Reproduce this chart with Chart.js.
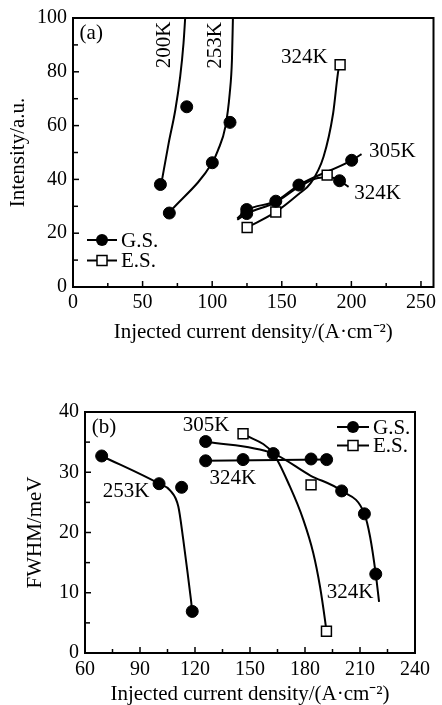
<!DOCTYPE html>
<html>
<head>
<meta charset="utf-8">
<script src="https://cdn.jsdelivr.net/npm/chart.js@4"></script>
<style>
body { margin: 0; background: #fff; width: 442px; height: 705px; position: relative; overflow: hidden; }
canvas { position: absolute; left: 0; }
</style>
</head>
<body>
<canvas id="chartA" width="442" height="350" style="top:0"></canvas>
<canvas id="chartB" width="442" height="345" style="top:360px"></canvas>
<script>
// ---- panel (a): intensity vs current density ----
var xTicksA = [0, 50, 100, 150, 200, 250];
var xMinorA = [25, 75, 125, 175, 225];
var yTicksA = [0, 20, 40, 60, 80, 100];
var yMinorA = [10, 30, 50, 70, 90];

var gs200 = [[62.8, 38.1], [81.7, 67.0]];
var gs253 = [[69.2, 27.5], [100.1, 46.2], [112.8, 61.2]];
var gs305 = [[124.8, 28.8], [145.7, 31.9], [162.3, 37.9], [200.2, 47.1]];
var gs324 = [[124.8, 27.3], [191.5, 39.5]];
var es324 = [[125.1, 22.1], [145.7, 27.9], [182.6, 41.6], [191.9, 82.6]];

// hand-drawn fit curves
var fit200 = [[63.5, 38.5], [68.7, 53.4], [73.5, 65.8], [77, 78.2], [79.4, 90.6], [80.6, 100]];
var fit253 = [[69.2, 27.7], [100, 46.2], [104.2, 50.9], [109.5, 59.6], [112.6, 72], [114.2, 84.5], [114.9, 100]];
var fit305 = [[118, 25.5], [124.8, 28.6], [145.7, 31.9], [162.3, 37.9], [200.2, 47.1], [207.3, 49.4]];
var fit324gs = [[118, 25], [124.8, 27.3], [145.7, 31.5], [162.3, 37.2], [176, 40.5], [185, 40.8], [191.5, 39.5], [198, 37.2]];
var fit324es = [[125.1, 22.1], [145.7, 27.9], [162, 34.5], [170.6, 38.5], [180, 48.4], [186.9, 64.6], [190.7, 80.7], [191.9, 82.6]];

var labelsA = [
    {text: '(a)', x: 13.1, y: 94.2},
    {text: '200K', x: 65.9, y: 90, rot: -90},
    {text: '253K', x: 102.7, y: 89.8, rot: -90},
    {text: '324K', x: 166.2, y: 85.2},
    {text: '305K', x: 229.5, y: 50.3},
    {text: '324K', x: 218.8, y: 34.8}
];

// ---- panel (b): FWHM vs current density ----
var xTicksB = [60, 90, 120, 150, 180, 210, 240];
var xMinorB = [75, 105, 135, 165, 195, 225];
var yTicksB = [0, 10, 20, 30, 40];
var yMinorB = [5, 15, 25, 35];

var gs253b = [[69.1, 32.7], [100.4, 28.1], [112.7, 27.5], [118.5, 6.9]];
var gs305b = [[125.8, 35.1], [162.7, 33.1], [200, 26.9], [212.4, 23.1], [218.6, 13.1]];
var gs324b = [[125.8, 31.9], [146.2, 32.1], [183.3, 32.2], [191.8, 32.1]];
var es324b = [[146.2, 36.4], [183.3, 27.9], [191.7, 3.6]];

var fit253b = [[69.1, 32.7], [100.4, 28.1], [106.4, 27.0], [110.9, 24.3], [113.6, 18.8], [116, 13.2], [117.8, 8.8], [118.5, 6.9]];
var fit305b = [[125.8, 35.1], [162.7, 33.1], [182.7, 29.5], [200, 26.9], [212.4, 23.1], [215.5, 19.3], [218.6, 13.1], [220.4, 8.5]];
var fit324b = [[125.8, 31.9], [191.8, 32.1]];
var fitEsb = [[146.2, 36.4], [162.7, 33.1], [171.8, 27.6], [179.1, 22.1], [184.5, 16.6], [188.2, 11], [190.9, 5.5], [191.7, 3.6]];

var labelsB = [
    {text: '(b)', x: 70.4, y: 37.5},
    {text: '305K', x: 126, y: 37.8},
    {text: '324K', x: 140.6, y: 29},
    {text: '253K', x: 82.4, y: 26.8},
    {text: '324K', x: 204.6, y: 10.1}
];

var SERIF = '"Liberation Serif", "Times New Roman", serif';

function pts(arr) {
    return arr.map(p => ({x: p[0], y: p[1]}));
}
function dots(arr) {
    return {data: pts(arr), showLine: false, pointStyle: 'circle', pointRadius: 6,
        backgroundColor: '#000', borderColor: '#000', borderWidth: 1};
}
function squares(arr) {
    return {data: pts(arr), showLine: false, pointStyle: 'rect', pointRadius: 7,
        backgroundColor: '#fff', borderColor: '#000', borderWidth: 1.5};
}
function curve(arr) {
    return {data: pts(arr), showLine: true, pointRadius: 0, borderColor: '#000',
        borderWidth: 2, cubicInterpolationMode: 'monotone', fill: false};
}

// frame, inward ticks, text labels and the little legend
const decor = {
    id: 'decor',
    afterDatasetsDraw(chart, args, o) {
        const {ctx, chartArea: ca, scales: {x, y}} = chart;
        ctx.save();
        ctx.strokeStyle = '#000';
        ctx.lineWidth = 2;
        ctx.strokeRect(ca.left, ca.top, ca.right - ca.left, ca.bottom - ca.top);
        ctx.lineWidth = 1.5;
        o.xMajor.concat(o.xMinor).forEach(v => {
            const px = x.getPixelForValue(v);
            ctx.beginPath();
            ctx.moveTo(px, ca.bottom);
            ctx.lineTo(px, ca.bottom - (o.xMajor.includes(v) ? 6 : 4));
            ctx.stroke();
        });
        o.yMajor.concat(o.yMinor).forEach(v => {
            const py = y.getPixelForValue(v);
            ctx.beginPath();
            ctx.moveTo(ca.left, py);
            ctx.lineTo(ca.left + (o.yMajor.includes(v) ? 6 : 5), py);
            ctx.stroke();
        });

        ctx.fillStyle = '#000';
        ctx.font = '21px ' + SERIF;
        ctx.textAlign = 'center';
        ctx.textBaseline = 'middle';
        o.labels.forEach(l => {
            ctx.save();
            ctx.translate(x.getPixelForValue(l.x), y.getPixelForValue(l.y));
            if (l.rot) ctx.rotate(l.rot * Math.PI / 180);
            ctx.fillText(l.text, 0, 0);
            ctx.restore();
        });

        // legend
        const lg = o.legend;
        [['G.S.', 'circle'], ['E.S.', 'rect']].forEach((item, i) => {
            const ly = ca.top + lg.top + i * lg.gap;
            const lx = ca.left + lg.left;
            ctx.lineWidth = 2;
            ctx.beginPath();
            ctx.moveTo(lx, ly);
            ctx.lineTo(lx + lg.len, ly);
            ctx.stroke();
            if (item[1] == 'circle') {
                ctx.beginPath();
                ctx.arc(lx + lg.len / 2, ly, 6, 0, Math.PI * 2);
                ctx.fill();
            } else {
                ctx.fillStyle = '#fff';
                ctx.lineWidth = 1.5;
                ctx.fillRect(lx + lg.len / 2 - 5, ly - 5, 10, 10);
                ctx.strokeRect(lx + lg.len / 2 - 5, ly - 5, 10, 10);
                ctx.fillStyle = '#000';
            }
            ctx.textAlign = 'left';
            ctx.fillText(item[0], lx + lg.len + 4, ly + 1);
        });
        ctx.restore();
    }
};

function makeChart(id, cfg) {
    const ctx = document.getElementById(id);
    return new Chart(ctx, {
        type: 'scatter',
        data: {datasets: cfg.datasets},
        options: {
            responsive: false,
            animation: false,
            devicePixelRatio: 1,
            layout: {padding: cfg.padding},
            plugins: {
                legend: {display: false},
                tooltip: {enabled: false},
                decor: {xMajor: cfg.xTicks, xMinor: cfg.xMinor, yMajor: cfg.yTicks, yMinor: cfg.yMinor,
                    labels: cfg.labels, legend: cfg.legend}
            },
            scales: {
                x: {
                    type: 'linear', min: cfg.xMin, max: cfg.xMax,
                    afterBuildTicks: s => { s.ticks = cfg.xTicks.map(v => ({value: v})); },
                    afterFit: s => { s.height = cfg.xHeight; },
                    grid: {display: false, drawTicks: false},
                    border: {display: false},
                    ticks: {color: '#000', padding: cfg.xTickPad, maxRotation: 0, font: {family: SERIF, size: 20}},
                    title: {display: true, text: 'Injected current density/(A\u00b7cm\u207b\u00b2)', color: '#000',
                        font: {family: SERIF, size: 21, lineHeight: 1}, padding: {top: 0, bottom: cfg.xTitlePad}}
                },
                y: {
                    type: 'linear', min: cfg.yMin, max: cfg.yMax,
                    afterBuildTicks: s => { s.ticks = cfg.yTicks.map(v => ({value: v})); },
                    afterFit: s => { s.width = cfg.yWidth; },
                    grid: {display: false, drawTicks: false},
                    border: {display: false},
                    ticks: {color: '#000', padding: 6, font: {family: SERIF, size: 20}},
                    title: {display: true, text: cfg.yTitle, color: '#000',
                        font: {family: SERIF, size: 21, lineHeight: 1}, padding: {top: cfg.yTitlePad, bottom: 0}}
                }
            }
        },
        plugins: [decor]
    });
}

makeChart('chartA', {
    datasets: [
        dots(gs200), dots(gs253), dots(gs305), dots(gs324), squares(es324),
        curve(fit200), curve(fit253), curve(fit305), curve(fit324gs), curve(fit324es)
    ],
    xMin: 0, xMax: 259, yMin: 0, yMax: 100,
    xTicks: xTicksA, xMinor: xMinorA, yTicks: yTicksA, yMinor: yMinorA,
    padding: {top: 18, right: 4, left: 0, bottom: 0},
    xHeight: 63, yWidth: 73, xTickPad: 4, xTitlePad: 7, yTitlePad: 8,
    yTitle: 'Intensity/a.u.',
    labels: labelsA,
    legend: {left: 14, top: 222, gap: 20.5, len: 30}
});

makeChart('chartB', {
    datasets: [
        dots(gs253b), dots(gs305b), dots(gs324b), squares(es324b),
        curve(fit253b), curve(fit305b), curve(fit324b), curve(fitEsb)
    ],
    xMin: 60, xMax: 240, yMin: 0, yMax: 40,
    xTicks: xTicksB, xMinor: xMinorB, yTicks: yTicksB, yMinor: yMinorB,
    padding: {top: 52, right: 27, left: 0, bottom: 0},
    xHeight: 52, yWidth: 85, xTickPad: 5, xTitlePad: 0, yTitlePad: 25,
    yTitle: 'FWHM/meV',
    labels: labelsB,
    legend: {left: 252, top: 15, gap: 18.5, len: 32}
});
</script>
</body>
</html>
